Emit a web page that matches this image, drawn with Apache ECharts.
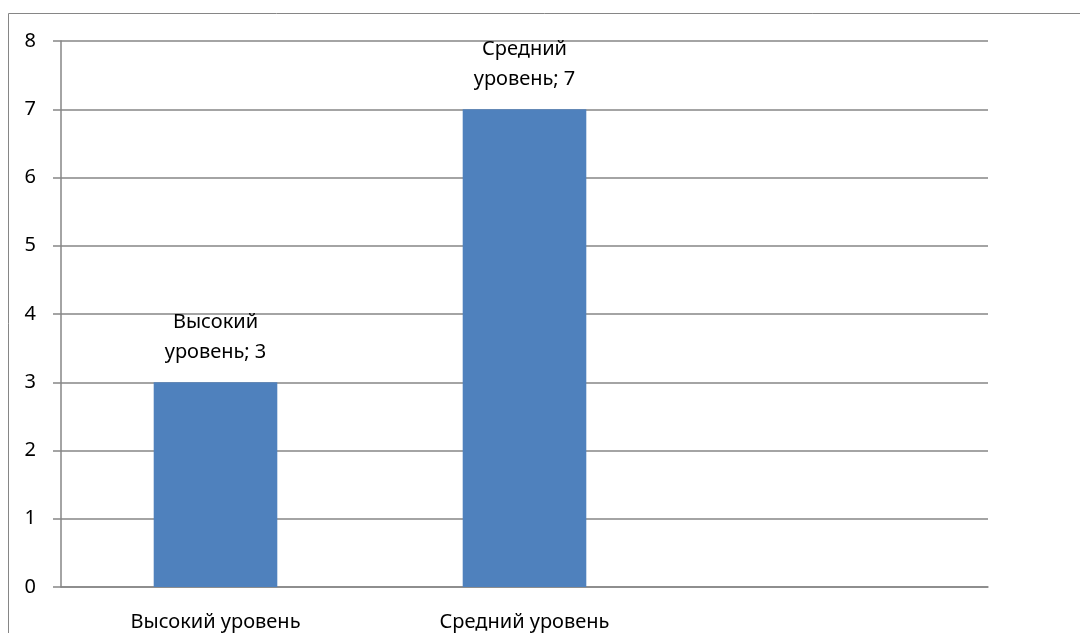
<!DOCTYPE html>
<html><head><meta charset="utf-8">
<script src="https://cdn.jsdelivr.net/npm/echarts@6/dist/echarts.min.js"></script>
<style>html,body{margin:0;padding:0;background:#fff;overflow:hidden}#c{width:1080px;height:633px}</style>
</head><body><div id="c"></div>
<script>
const categories = ['Высокий уровень', 'Средний уровень', ''];
const values = [3, 7, null];
const yTicks = [0, 1, 2, 3, 4, 5, 6, 7, 8];

const chart = echarts.init(document.getElementById('c'));
const font = 'Noto Sans';
chart.setOption({
  animation: false,
  graphic: [{type: 'rect', shape: {x: 8.5, y: 13.5, width: 1200, height: 800}, style: {fill: 'none', stroke: '#868686', lineWidth: 1}}],
  grid: {left: 61, right: 92, top: 41, bottom: 46, containLabel: false},
  xAxis: {
    type: 'category', data: categories,
    axisLine: {lineStyle: {color: '#868686', width: 1.5}},
    axisTick: {length: 8, lineStyle: {color: '#868686', width: 1.5}},
    axisLabel: {color: '#000', fontFamily: font, fontSize: 20, margin: 25}
  },
  yAxis: {
    type: 'value', min: yTicks[0], max: yTicks[yTicks.length - 1], interval: 1,
    axisLine: {show: true, lineStyle: {color: '#868686', width: 1.5}},
    axisTick: {show: true, length: 8, lineStyle: {color: '#868686', width: 1.5}},
    splitLine: {lineStyle: {color: '#868686', width: 1.5}},
    axisLabel: {color: '#000', fontFamily: font, fontSize: 20, margin: 25}
  },
  series: [{
    type: 'bar', data: values, barWidth: '40%',
    itemStyle: {color: '#4F81BD'},
    label: {
      show: true, position: 'top', distance: 15, color: '#000', fontFamily: font, fontSize: 20, lineHeight: 30,
      formatter: p => p.name.replace(' ', '\n') + '; ' + p.value
    }
  }]
});
</script></body></html>
